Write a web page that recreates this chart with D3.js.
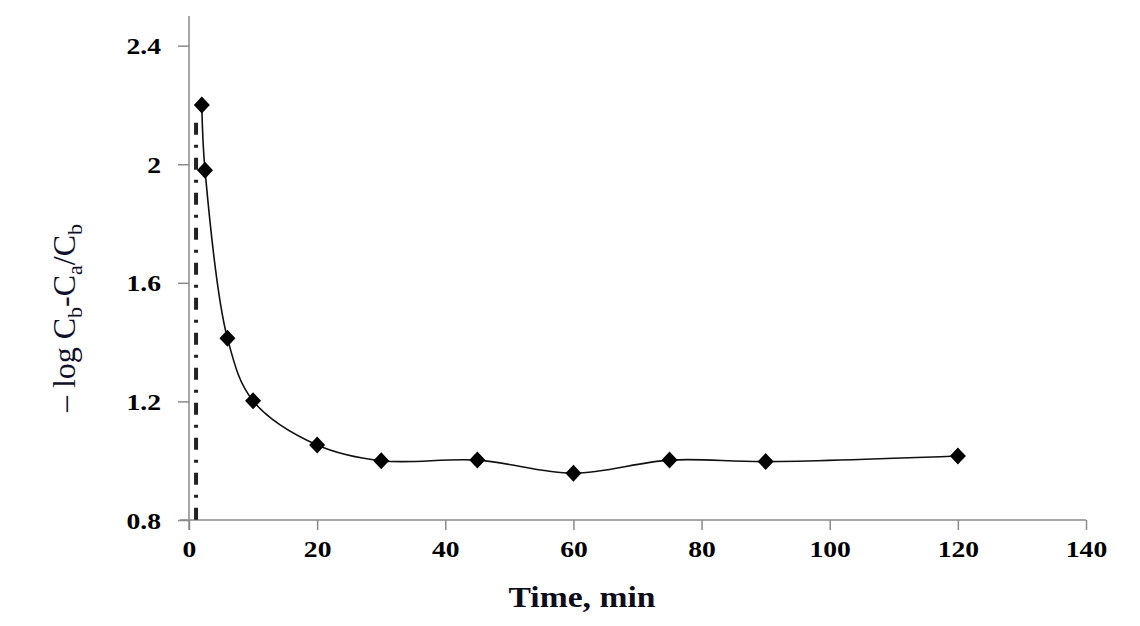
<!DOCTYPE html>
<html>
<head>
<meta charset="utf-8">
<script src="https://cdn.jsdelivr.net/npm/d3@7"></script>
<style>
  html, body { margin: 0; padding: 0; background: #fff; }
  svg { display: block; }
  .serif { font-family: "Liberation Serif", "Times New Roman", Times, serif; }
</style>
</head>
<body>
<svg id="chart" width="1140" height="626"></svg>
<script>
// ---- data ----
const timeMin = [2, 2.5, 6, 10, 20, 30, 45, 60, 75, 90, 120];
const logValues = [2.2, 1.98, 1.413, 1.202, 1.053, 1.0, 1.002, 0.958, 1.002, 0.997, 1.016];
const xTicks = [0, 20, 40, 60, 80, 100, 120, 140];
const yTicks = [0.8, 1.2, 1.6, 2.0, 2.4];
const yTickLabels = ["0.8", "1.2", "1.6", "2", "2.4"];
const markerLineX = [1.1, 1.1];
const markerLineY = [2.14, 0.8];
const xTitle = "Time, min";

const svg = d3.select("#chart");
const x = d3.scaleLinear().domain([0, 140]).range([189, 1086]);
const y = d3.scaleLinear().domain([0.8, 2.5]).range([520, 16]);

const axisColor = "#8a8a8a";

// X axis
const gx = svg.append("g").attr("transform", `translate(0,${y(0.8)})`)
  .call(d3.axisBottom(x).tickValues(xTicks).tickSize(10).tickSizeOuter(0).tickFormat(d3.format("d")));
gx.select(".domain").remove();
gx.attr("font-family", null).attr("font-size", null);
gx.selectAll(".tick line").attr("stroke", axisColor).attr("stroke-width", 1.5);
gx.selectAll(".tick text")
  .attr("class", "serif")
  .attr("y", 0).attr("dy", 0)
  .attr("transform", "translate(0,37) scale(1.15,1)")
  .attr("fill", "#000")
  .attr("font-weight", "bold").attr("font-size", 24);

svg.append("line")
  .attr("x1", 180).attr("x2", x(140))
  .attr("y1", y(0.8)).attr("y2", y(0.8))
  .attr("stroke", axisColor).attr("stroke-width", 1.5);

// Y axis
const gy = svg.append("g").attr("transform", `translate(${x(0)},0)`)
  .call(d3.axisLeft(y).tickValues(yTicks).tickSize(11).tickSizeOuter(0)
    .tickFormat((d, i) => yTickLabels[i]));
gy.select(".domain").remove();
gy.attr("font-family", null).attr("font-size", null);
gy.selectAll(".tick line").attr("stroke", axisColor).attr("stroke-width", 1.5);
gy.selectAll(".tick text")
  .attr("class", "serif")
  .attr("x", 0).attr("dy", 0)
  .attr("transform", "translate(-28,8) scale(1.15,1)")
  .attr("text-anchor", "end")
  .attr("fill", "#000")
  .attr("font-weight", "bold").attr("font-size", 24);
svg.append("line")
  .attr("x1", x(0)).attr("x2", x(0))
  .attr("y1", y(2.5)).attr("y2", y(0.8) + 10)
  .attr("stroke", axisColor).attr("stroke-width", 1.5);

// dash-dot vertical line
svg.append("line")
  .attr("x1", x(markerLineX[0])).attr("x2", x(markerLineX[1]))
  .attr("y1", y(markerLineY[0])).attr("y2", y(markerLineY[1]))
  .attr("stroke", "#222").attr("stroke-width", 4)
  .attr("stroke-dasharray", "12,10,3,10");

// smooth series line
const pts = timeMin.map((t, i) => [t, logValues[i]]);
const line = d3.line().x(d => x(d[0])).y(d => y(d[1])).curve(d3.curveCatmullRom.alpha(0.5));
svg.append("path").datum(pts)
  .attr("d", line)
  .attr("fill", "none").attr("stroke", "#111").attr("stroke-width", 1.6);

// diamond markers
svg.append("g").selectAll("path").data(pts).join("path")
  .attr("transform", d => `translate(${x(d[0])},${y(d[1])})`)
  .attr("d", "M0,-8.5L8,0L0,8.5L-8,0Z")
  .attr("fill", "#000");

// X title
svg.append("text")
  .attr("class", "serif")
  .attr("x", 582).attr("y", 607)
  .attr("text-anchor", "middle")
  .attr("textLength", 147).attr("lengthAdjust", "spacingAndGlyphs")
  .attr("font-weight", "bold").attr("font-size", 30)
  .attr("fill", "#0d0d1a")
  .text(xTitle);

// Y title
const yt = svg.append("text")
  .attr("class", "serif")
  .attr("transform", "translate(75,318) rotate(-90)")
  .attr("text-anchor", "middle")
  .attr("font-size", 32)
  .attr("fill", "#10102a");
yt.append("tspan").text("– log C");
yt.append("tspan").attr("dy", 7).attr("font-size", 22).text("b");
yt.append("tspan").attr("dy", -7).text("-C");
yt.append("tspan").attr("dy", 7).attr("font-size", 22).text("a");
yt.append("tspan").attr("dy", -7).text("/C");
yt.append("tspan").attr("dy", 7).attr("font-size", 22).text("b");
</script>
</body>
</html>
